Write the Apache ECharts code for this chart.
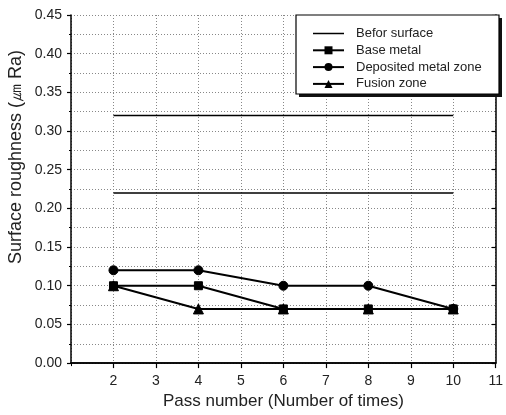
<!DOCTYPE html>
<html>
<head>
<meta charset="utf-8">
<script src="https://cdn.jsdelivr.net/npm/echarts@6/dist/echarts.min.js"></script>
<style>
  html, body { margin: 0; padding: 0; background: #fff; }
  #chart { width: 506px; height: 415px; }
</style>
</head>
<body>
<div id="chart"></div>
<script>
// ---- Data ----
const passNumbers = [2, 4, 6, 8, 10];
const beforSurfaceHigh = [0.32, 0.32, 0.32, 0.32, 0.32];
const beforSurfaceLow = [0.22, 0.22, 0.22, 0.22, 0.22];
const baseMetal = [0.10, 0.10, 0.07, 0.07, 0.07];
const depositedMetalZone = [0.12, 0.12, 0.10, 0.10, 0.07];
const fusionZone = [0.10, 0.07, 0.07, 0.07, 0.07];
const seriesNames = ['Befor surface', 'Base metal', 'Deposited metal zone', 'Fusion zone'];
const xAxisTitle = 'Pass number (Number of times)';
const yAxisTitle = 'Surface roughness (\u339B Ra)';

const pairs = vals => passNumbers.map((x, i) => [x, vals[i]]);

const FONT = 'Liberation Sans, Arial, sans-serif';
const TXT = '#222';
const gridLine = { show: true, lineStyle: { color: '#888', type: [1, 2], width: 1 } };

const chart = echarts.init(document.getElementById('chart'), null, { renderer: 'canvas' });

function lineSeries(name, vals, symbol, size, width) {
  return {
    name: name, type: 'line', data: pairs(vals),
    symbol: symbol, symbolSize: size, showSymbol: symbol !== 'none',
    lineStyle: { color: '#000', width: width },
    itemStyle: { color: '#000', borderColor: '#000' },
    animation: false, silent: true
  };
}

chart.setOption({
  backgroundColor: '#fff',
  animation: false,
  textStyle: { fontFamily: FONT },
  grid: { left: 71, right: 6, top: 15, bottom: 49, containLabel: false },
  xAxis: [{
    type: 'value', min: 1, max: 11, interval: 1, position: 'bottom',
    name: xAxisTitle, nameLocation: 'middle', nameGap: 28,
    nameTextStyle: { fontSize: 17, color: TXT, fontFamily: FONT },
    axisLine: { show: true, lineStyle: { color: '#000', width: 1.5 } },
    axisTick: { show: true, inside: false, length: 5, lineStyle: { color: '#000', width: 1.2 } },
    axisLabel: { show: true, showMinLabel: false, margin: 11, fontSize: 14, color: TXT, fontFamily: FONT },
    splitLine: gridLine
  }, {
    type: 'value', min: 1, max: 11, interval: 1, position: 'top',
    axisLine: { show: true, lineStyle: { color: '#000', width: 1.5 } },
    axisTick: { show: true, inside: true, length: 3, lineStyle: { color: '#000' } },
    axisLabel: { show: false }, splitLine: { show: false }
  }],
  yAxis: [{
    type: 'value', min: 0, max: 0.45, interval: 0.05, position: 'left',
    axisLine: { show: true, lineStyle: { color: '#000', width: 1.5 } },
    axisTick: { show: true, inside: false, length: 4, lineStyle: { color: '#000', width: 1.2 } },
    minorTick: { show: true, splitNumber: 2, length: 2, lineStyle: { color: '#000' } },
    axisLabel: { margin: 9, fontSize: 14, color: TXT, fontFamily: FONT, formatter: v => v.toFixed(2) },
    splitLine: gridLine,
    minorSplitLine: gridLine
  }, {
    type: 'value', min: 0, max: 0.45, interval: 0.05, position: 'right',
    axisLine: { show: true, lineStyle: { color: '#000', width: 1.5 } },
    axisTick: { show: true, inside: true, length: 4, lineStyle: { color: '#000', width: 1.2 } },
    axisLabel: { show: false }, splitLine: { show: false }
  }],
  legend: {
    orient: 'vertical', left: 312, top: 27, z: 20, padding: 0,
    itemWidth: 31, itemHeight: 10, itemGap: 3.8,
    data: [
      { name: seriesNames[0], icon: 'path://M0,0L31,0L31,1.5L0,1.5Z' },
      seriesNames[1], seriesNames[2], seriesNames[3]
    ],
    textStyle: { fontSize: 13, color: TXT, fontFamily: FONT, padding: [0, 0, 0, 7] },
    selectedMode: false
  },
  graphic: [
    { type: 'rect', shape: { x: 299, y: 18, width: 203, height: 79 }, style: { fill: '#111' }, z: 5 },
    { type: 'rect', shape: { x: 296, y: 15, width: 203, height: 79 }, style: { fill: '#fff', stroke: '#000', lineWidth: 1.2 }, z: 6 },
    { type: 'text', x: 16, y: 157, rotation: Math.PI / 2,
      style: { text: yAxisTitle, fontSize: 18, fill: TXT, fontFamily: FONT, align: 'center', verticalAlign: 'middle' }, z: 6 }
  ],
  series: [
    lineSeries(seriesNames[0], beforSurfaceHigh, 'none', 0, 1.5),
    lineSeries(seriesNames[0], beforSurfaceLow, 'none', 0, 1.5),
    lineSeries(seriesNames[1], baseMetal, 'rect', 8, 2),
    lineSeries(seriesNames[2], depositedMetalZone, 'circle', 9, 2),
    lineSeries(seriesNames[3], fusionZone, 'triangle', 10, 2)
  ]
});
</script>
</body>
</html>
